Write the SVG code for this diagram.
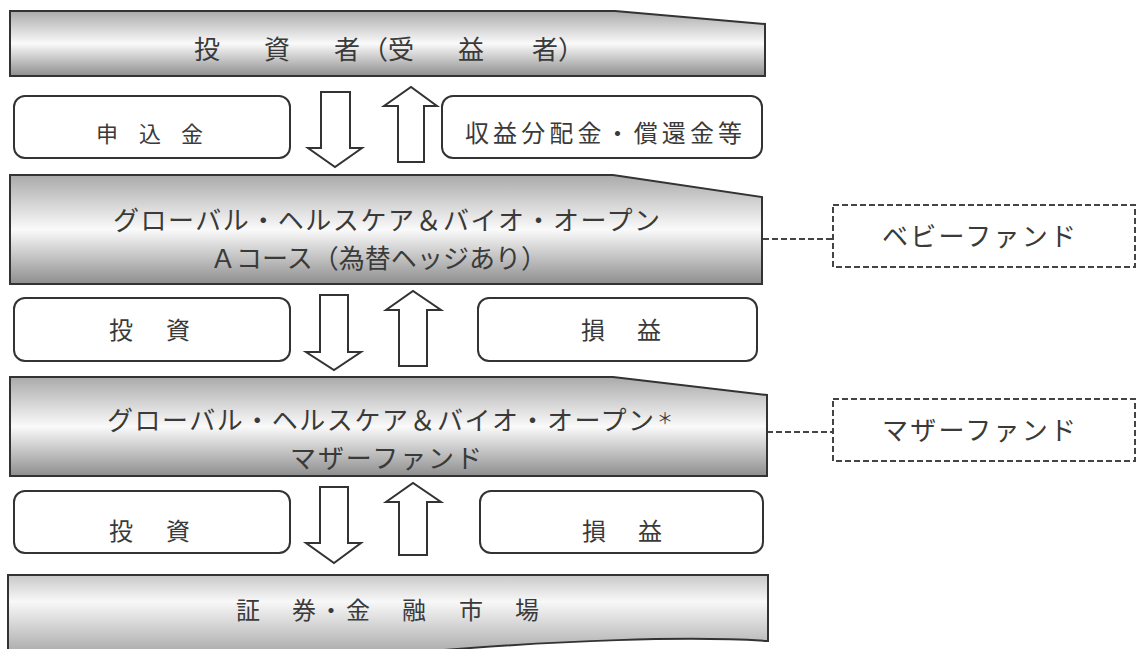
<svg xmlns="http://www.w3.org/2000/svg" width="1137" height="649" viewBox="0 0 1137 649">
<defs>
<linearGradient id="barg" x1="0" y1="0" x2="0" y2="1">
<stop offset="0" stop-color="#aaaaaa"/>
<stop offset="0.5" stop-color="#fafafa"/>
<stop offset="1" stop-color="#8e8e8e"/>
</linearGradient>
<linearGradient id="barg4" x1="0" y1="0" x2="0" y2="1">
<stop offset="0" stop-color="#c8c8c8"/>
<stop offset="0.3" stop-color="#f8f8f8"/>
<stop offset="1" stop-color="#9a9a9a"/>
</linearGradient>
<style>
.bar{stroke:#333;stroke-width:2;stroke-linejoin:miter}
.box{fill:#fff;stroke:#333;stroke-width:2}
.dbox{fill:#fff;stroke:#444;stroke-width:2;stroke-dasharray:6 3}
.arr{fill:#fff;stroke:#333;stroke-width:2;stroke-linejoin:miter}
.dl{stroke:#444;stroke-width:2;stroke-dasharray:6 3;fill:none}
text{font-family:"Noto Sans CJK JP","Noto Sans CJK SC",sans-serif;fill:#3a3a3a}
.t26{font-size:26px}
.t24{font-size:24px}
.t22{font-size:22px}
</style>
</defs>
<rect width="1137" height="649" fill="#fff"/>
<g id="connectors">
<line class="dl" x1="763" y1="239" x2="833" y2="239"/>
<line class="dl" x1="767" y1="432" x2="833" y2="432"/>
<polygon class="arr" points="321,92 350,92 350,148 362,148 335,167 308,148 321,148"/>
<polygon class="arr" points="398,162 424,162 424,106 437,106 411,87 384,106 398,106"/>
<polygon class="arr" points="320,295 348,295 348,352 361,352 334,370 306,352 320,352"/>
<polygon class="arr" points="399,366 427,366 427,310 441,310 413,291 386,310 399,310"/>
<polygon class="arr" points="320,487 348,487 348,543 361,543 334,563 306,543 320,543"/>
<polygon class="arr" points="399,555 427,555 427,502 441,502 413,483 386,502 399,502"/>
</g>
<g id="investor">
<path class="bar" fill="url(#barg)" d="M10,11 L615,11 L765,24 L765,76 L10,76 Z"/>
<text class="t26" y="59"><tspan x="194">投</tspan><tspan x="264">資</tspan><tspan x="334">者</tspan><tspan x="362">（受</tspan><tspan x="458">益</tspan><tspan x="532">者）</tspan></text>
</g>
<g id="moushikomi">
<rect class="box" x="14" y="96" width="276" height="62" rx="11"/>
<text class="t22" y="142"><tspan x="96">申</tspan><tspan x="139">込</tspan><tspan x="181">金</tspan></text>
</g>
<g id="shueki">
<rect class="box" x="442" y="96" width="320" height="62" rx="11"/>
<text class="t24" x="465" y="142" textLength="277" lengthAdjust="spacing">収益分配金・償還金等</text>
</g>
<g id="babyfund">
<path class="bar" fill="url(#barg)" d="M10,175 L613,175 L762,197 L762,284 L10,284 Z"/>
<text class="t26" x="113" y="230" textLength="547" lengthAdjust="spacing">グローバル・ヘルスケア＆バイオ・オープン</text>
<text class="t26" x="210" y="268" textLength="337" lengthAdjust="spacing">Ａコース（為替ヘッジあり）</text>
</g>
<g id="babylabel">
<rect class="dbox" x="833" y="205" width="302" height="62"/>
<text class="t26" x="882" y="246" textLength="194" lengthAdjust="spacing">ベビーファンド</text>
</g>
<g id="toshi1">
<rect class="box" x="14" y="298" width="276" height="63" rx="11"/>
<text class="t24" y="339"><tspan x="109">投</tspan><tspan x="166">資</tspan></text>
</g>
<g id="soneki1">
<rect class="box" x="478" y="298" width="279" height="63" rx="11"/>
<text class="t24" y="339"><tspan x="581">損</tspan><tspan x="637">益</tspan></text>
</g>
<g id="motherfund">
<path class="bar" fill="url(#barg)" d="M10,377 L613,377 L767,395 L767,476 L10,476 Z"/>
<text class="t26" y="430"><tspan x="107" textLength="547" lengthAdjust="spacing">グローバル・ヘルスケア＆バイオ・オープン</tspan><tspan x="657" y="424" font-size="16">＊</tspan></text>
<text class="t26" x="290" y="468" textLength="192" lengthAdjust="spacing">マザーファンド</text>
</g>
<g id="motherlabel">
<rect class="dbox" x="833" y="399" width="302" height="62"/>
<text class="t26" x="882" y="440" textLength="194" lengthAdjust="spacing">マザーファンド</text>
</g>
<g id="toshi2">
<rect class="box" x="14" y="491" width="276" height="62" rx="11"/>
<text class="t24" y="540"><tspan x="109">投</tspan><tspan x="166">資</tspan></text>
</g>
<g id="soneki2">
<rect class="box" x="480" y="491" width="283" height="62" rx="11"/>
<text class="t24" y="540"><tspan x="582">損</tspan><tspan x="638">益</tspan></text>
</g>
<g id="market">
<path class="bar" fill="url(#barg4)" d="M8,575 L768,575 L768,641 C690,636 560,640 420,652 L8,664 Z"/>
<text class="t24" y="619"><tspan x="236">証</tspan><tspan x="292">券</tspan><tspan x="319">・</tspan><tspan x="346">金</tspan><tspan x="402">融</tspan><tspan x="459">市</tspan><tspan x="515">場</tspan></text>
</g>
</svg>
